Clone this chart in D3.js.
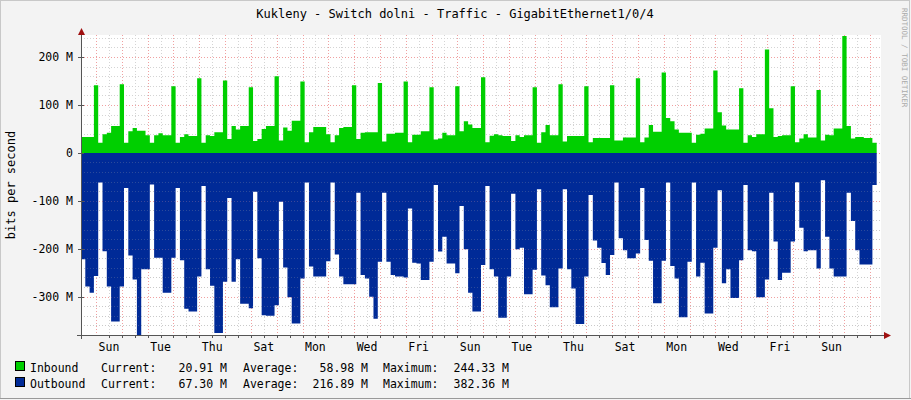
<!DOCTYPE html>
<html>
<head>
<meta charset="utf-8">
<script src="https://cdn.jsdelivr.net/npm/d3@7"></script>
<style>
body { margin: 0; background: #f3f3f3; }
text { font-family: "DejaVu Sans Mono", monospace; fill: #000; }
</style>
</head>
<body>
<script>
// samples every 4 hours, values in Mbit/s, first sample starts 14h before the first midnight
var startHour = -14;
var stepHours = 4;
var inbound = [33,33,33,
  141,21,39,42,56,56, 143,21,45,52,46,46, 37,21,37,41,37,37, 139,21,33,39,35,35,
  156,21,37,35,43,43, 151,29,56,49,56,56, 137,25,29,50,56,56, 160,26,53,46,67,67,
  149,22,43,54,54,54, 39,22,37,52,54,54, 141,29,42,43,43,43, 146,24,40,40,42,42,
  149,22,38,38,45,45, 137,28,30,42,37,37, 139,45,66,59,52,52, 158,22,36,39,37,35,
  35,25,37,33,37,37, 137,21,43,58,37,37, 143,24,35,35,35,35, 139,22,31,31,31,31,
  141,26,26,32,32,32, 156,22,32,58,44,44, 168,73,66,49,42,42, 42,21,38,40,51,51,
  172,85,57,49,49,49, 135,21,37,33,39,39, 216,93,33,35,37,37, 139,22,30,39,32,32,
  131,26,38,37,51,51, 244,56,30,33,33,31, 31,21];
var outbound = [222,279,292,
  257,62,205,279,352,352, 279,73,214,264,382,243, 243,66,219,219,292,292, 219,73,224,325,331,331,
  258,69,243,277,376,376, 269,94,269,222,315,315, 324,81,220,339,340,340, 318,102,239,301,356,356,
  262,62,237,258,258,258, 226,62,212,258,274,274, 274,83,255,262,300,346, 227,83,227,255,258,258,
  260,116,229,231,265,265, 227,67,206,175,231,231, 251,111,201,292,331,331, 234,69,243,258,344,344,
  258,85,201,198,295,295, 244,76,256,276,322,322, 241,76,243,283,357,357, 258,88,183,198,230,255,
  213,62,178,203,220,220, 210,73,182,225,314,314, 225,62,236,262,343,343, 227,62,258,229,335,335,
  198,78,272,243,303,303, 224,67,203,205,301,301, 264,83,185,265,250,250, 185,61,156,205,203,203,
  241,57,175,241,258,258, 258,83,142,203,233,233, 233,67];
var dayLabels = ["Sun","Tue","Thu","Sat","Mon","Wed","Fri","Sun","Tue","Thu","Sat","Mon","Wed","Fri","Sun"];
var yTicks = [-300,-200,-100,0,100,200];
var legendRows = [
  {name: "Inbound", color: "#00cf00", cur: "20.91 M", avg: "58.98 M", max: "244.33 M"},
  {name: "Outbound", color: "#002a97", cur: "67.30 M", avg: "216.89 M", max: "382.36 M"}
];

var svg = d3.select("body").append("svg")
    .attr("width", 911).attr("height", 400)
    .style("display", "block");

svg.append("rect").attr("x", 0.5).attr("y", 0.5).attr("width", 909).attr("height", 398)
    .attr("fill", "#f3f3f3").attr("stroke", "#c8c8c8");
svg.append("line").attr("x1", 0).attr("x2", 911).attr("y1", 398.5).attr("y2", 398.5).attr("stroke", "#999");

var x = d3.scaleLinear().domain([startHour, startHour + 744]).range([81, 881]);
var y = d3.scaleLinear().domain([-380, 246]).range([335, 35]);

svg.append("rect").attr("x", 81).attr("y", 35).attr("width", 800).attr("height", 300).attr("fill", "#fff");

var grid = svg.append("g");
// minor horizontal grid every 20 M
d3.range(-360, 246, 20).forEach(function (v) {
    if (v % 100 === 0) return;
    grid.append("line").attr("x1", 81).attr("x2", 881).attr("y1", Math.round(y(v)) + 0.5).attr("y2", Math.round(y(v)) + 0.5)
        .attr("stroke", "#d4d4d4").attr("stroke-dasharray", "1,2");
});
// minor vertical grid at noon
d3.range(12, 744 + startHour, 24).forEach(function (h) {
    grid.append("line").attr("y1", 35).attr("y2", 335).attr("x1", Math.round(x(h)) + 0.5).attr("x2", Math.round(x(h)) + 0.5)
        .attr("stroke", "#d4d4d4").attr("stroke-dasharray", "1,2");
});
// major grid
yTicks.forEach(function (v) {
    grid.append("line").attr("x1", 81).attr("x2", 881).attr("y1", Math.round(y(v)) + 0.5).attr("y2", Math.round(y(v)) + 0.5)
        .attr("stroke", "#f0a0a0").attr("stroke-dasharray", "1,2");
});
d3.range(0, 744 + startHour, 24).forEach(function (h) {
    grid.append("line").attr("y1", 35).attr("y2", 335).attr("x1", Math.round(x(h)) + 0.5).attr("x2", Math.round(x(h)) + 0.5)
        .attr("stroke", "#f0a0a0").attr("stroke-dasharray", "1,2");
});

function pts(arr) {
    var p = arr.map(function (v, i) { return {h: startHour + i * stepHours, v: v}; });
    p.push({h: startHour + arr.length * stepHours, v: arr[arr.length - 1]});
    return p;
}

var inArea = d3.area().curve(d3.curveStepAfter)
    .x(function (d) { return x(d.h); }).y0(y(0)).y1(function (d) { return y(d.v); });
var outArea = d3.area().curve(d3.curveStepAfter)
    .x(function (d) { return x(d.h); }).y0(y(0)).y1(function (d) { return y(-d.v); });

svg.append("path").datum(pts(inbound)).attr("d", inArea).attr("fill", legendRows[0].color);
svg.append("path").datum(pts(outbound)).attr("d", outArea).attr("fill", legendRows[1].color);

// grid shows faintly over blue area
var over = svg.append("g").attr("opacity", 0.25);
d3.range(-360, 0, 20).forEach(function (v) {
    over.append("line").attr("x1", 81).attr("x2", 881).attr("y1", Math.round(y(v)) + 0.5).attr("y2", Math.round(y(v)) + 0.5)
        .attr("stroke", v % 100 === 0 ? "#f0a0a0" : "#aaa").attr("stroke-dasharray", "1,2");
});

// axes
svg.append("line").attr("x1", 81.5).attr("x2", 81.5).attr("y1", 32).attr("y2", 339).attr("stroke", "#555");
svg.append("line").attr("x1", 77).attr("x2", 886).attr("y1", 335.5).attr("y2", 335.5).attr("stroke", "#555");
svg.append("path").attr("d", "M78,35 L81.5,28 L85,35 Z").attr("fill", "#a01010");
svg.append("path").attr("d", "M884,332 L891,335.5 L884,339 Z").attr("fill", "#a01010");

d3.range(12, 744 + startHour, 12).forEach(function (h) {
    svg.append("line").attr("y1", 335).attr("y2", 338).attr("x1", Math.round(x(h)) + 0.5).attr("x2", Math.round(x(h)) + 0.5).attr("stroke", "#555");
});
yTicks.forEach(function (v) {
    svg.append("line").attr("x1", 78).attr("x2", 84).attr("y1", Math.round(y(v)) + 0.5).attr("y2", Math.round(y(v)) + 0.5).attr("stroke", "#555");
    svg.append("text").attr("x", 73).attr("y", y(v) + 4).attr("text-anchor", "end")
        .style("font-size", "11.5px").text(v === 0 ? "0" : v + " M");
});

dayLabels.forEach(function (d, i) {
    svg.append("text").attr("x", x(12 + i * 48)).attr("y", 351).attr("text-anchor", "middle")
        .style("font-size", "11.5px").text(d);
});

svg.append("text").attr("x", 455).attr("y", 18).attr("text-anchor", "middle")
    .style("font-size", "12px").text("Kukleny - Switch dolni - Traffic - GigabitEthernet1/0/4");
svg.append("text").attr("transform", "translate(15,185) rotate(-90)").attr("text-anchor", "middle")
    .style("font-size", "12px").text("bits per second");
svg.append("text").attr("transform", "translate(902,8) rotate(90)").attr("text-anchor", "start")
    .style("font-size", "7.5px").style("fill", "#aaa").text("RRDTOOL / TOBI OETIKER");

legendRows.forEach(function (r, i) {
    var by = 372 + i * 16;
    svg.append("rect").attr("x", 15.5).attr("y", by - 10.5).attr("width", 9).attr("height", 9)
        .attr("fill", r.color).attr("stroke", "#000");
    svg.append("text").attr("x", 30).attr("y", by).style("font-size", "11.5px").text(r.name);
    svg.append("text").attr("x", 101).attr("y", by).style("font-size", "11.5px").text("Current:");
    svg.append("text").attr("x", 227).attr("y", by).attr("text-anchor", "end").style("font-size", "11.5px").text(r.cur);
    svg.append("text").attr("x", 243).attr("y", by).style("font-size", "11.5px").text("Average:");
    svg.append("text").attr("x", 368).attr("y", by).attr("text-anchor", "end").style("font-size", "11.5px").text(r.avg);
    svg.append("text").attr("x", 383).attr("y", by).style("font-size", "11.5px").text("Maximum:");
    svg.append("text").attr("x", 509).attr("y", by).attr("text-anchor", "end").style("font-size", "11.5px").text(r.max);
});
</script>
</body>
</html>
